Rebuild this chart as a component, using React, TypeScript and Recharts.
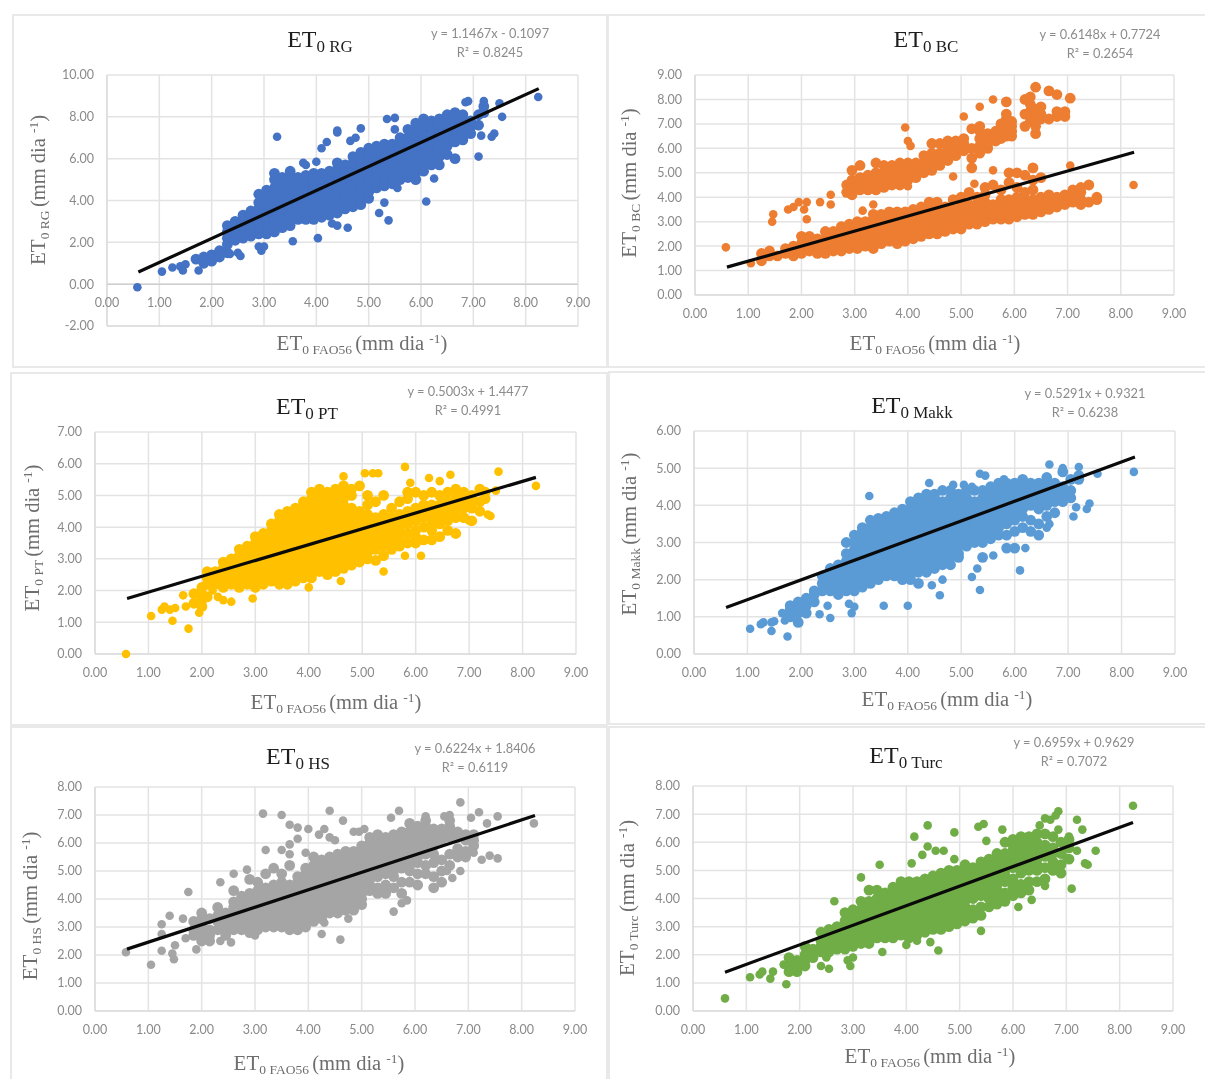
import React from 'react';
import { CartesianGrid, ReferenceLine, Scatter, ScatterChart, XAxis, YAxis } from 'recharts';

// cloud rows are [x, y, y, y...]
const rgCloud: number[][] = [
  [1.7, 1.2], [1.85, 1.0, 1.3], [2.0, 1.1, 1.4], [2.15, 1.3, 1.6], [2.3, 1.5, 1.9, 2.2, 2.5, 2.8],
  [2.45, 2.1, 2.4, 2.7, 3.0], [2.6, 2.2, 2.5, 2.8, 3.1, 3.3], [2.75, 2.3, 2.6, 2.9, 3.2, 3.5],
  [2.9, 2.4, 2.7, 3, 3.3, 3.6, 3.9, 4.3], [3.05, 2.4, 2.6, 2.9, 3.2, 3.5, 3.8, 4.1, 4.5],
  [3.2, 2.5, 2.8, 3.1, 3.4, 3.7, 4, 4.3, 4.6, 5, 5.3], [3.35, 2.7, 3, 3.3, 3.6, 3.9, 4.2, 4.5, 4.8, 5.1],
  [3.5, 2.8, 3.1, 3.4, 3.7, 4, 4.3, 4.6, 4.9, 5.2, 5.4], [3.65, 3.1, 3.3, 3.6, 3.9, 4.2, 4.5, 4.8, 5.1],
  [3.8, 3.1, 3.4, 3.7, 4, 4.3, 4.6, 4.9, 5.2], [3.95, 3.1, 3.3, 3.6, 3.9, 4.2, 4.5, 4.8, 5.1, 5.3],
  [4.1, 3.2, 3.5, 3.8, 4.1, 4.4, 4.7, 5, 5.3], [4.25, 3.3, 3.6, 3.9, 4.2, 4.5, 4.8, 5.1, 5.4],
  [4.4, 3.4, 3.7, 4, 4.3, 4.6, 4.9, 5.2, 5.5, 5.8], [4.55, 3.6, 3.9, 4.2, 4.5, 4.8, 5.1, 5.4, 5.7],
  [4.7, 3.7, 4, 4.3, 4.6, 4.9, 5.2, 5.5, 5.8, 6.1], [4.85, 3.8, 4.2, 4.5, 4.8, 5.1, 5.4, 5.7, 6, 6.3],
  [5.0, 4.1, 4.4, 4.7, 5, 5.3, 5.6, 5.9, 6.2, 6.5], [5.15, 4.6, 4.9, 5.2, 5.5, 5.8, 6.1, 6.4, 6.6],
  [5.3, 4.7, 5, 5.3, 5.6, 5.9, 6.2, 6.5, 6.7], [5.45, 4.8, 5.2, 5.5, 5.8, 6.1, 6.4, 6.7],
  [5.6, 5.0, 5.3, 5.6, 5.9, 6.2, 6.5, 6.8, 7], [5.75, 5.1, 5.5, 5.8, 6.1, 6.4, 6.7, 7, 7.4],
  [5.9, 5.0, 5.3, 5.6, 5.9, 6.2, 6.5, 6.8, 7.1, 7.4, 7.7], [6.05, 5.4, 5.8, 6.1, 6.4, 6.7, 7, 7.3, 7.6, 7.9],
  [6.2, 5.7, 6, 6.3, 6.6, 6.9, 7.2, 7.5, 7.8], [6.35, 5.7, 6.1, 6.5, 6.8, 7.1, 7.4, 7.7, 7.9],
  [6.5, 6.2, 6.6, 6.9, 7.2, 7.5, 7.8, 8.1], [6.65, 6.0, 6.8, 7.1, 7.4, 7.7, 8, 8.2],
  [6.8, 6.9, 7.2, 7.5, 7.8, 8.1], [6.95, 7.2, 7.5, 7.8], [7.1, 7.6, 8.1], [7.2, 8.2, 8.5]
];
const rgOutX = [0.58, 1.05, 1.25, 1.4, 1.45, 1.5, 1.75, 2.35, 2.5, 2.55, 2.95, 2.9, 3.0, 3.25, 3.55, 4.03, 3.75, 3.8, 4.0, 4.1, 4.2, 4.4, 4.4, 4.65, 4.75, 4.85, 5.35, 5.5, 5.5, 5.2, 5.3, 5.38, 6.1, 6.25, 5.55, 6.65, 7.1, 7.15, 7.35, 7.4, 7.55, 6.85, 6.9, 7.2, 7.5, 8.24, 4.3, 4.4, 4.6];
const rgOutY = [-0.15, 0.6, 0.8, 0.85, 0.65, 0.95, 0.65, 1.45, 1.5, 1.35, 1.6, 1.8, 1.8, 7.05, 2.05, 2.2, 5.8, 5.7, 5.85, 6.5, 6.8, 7.35, 7.25, 6.85, 7.0, 7.45, 7.9, 7.95, 7.4, 3.4, 3.9, 3.05, 3.95, 5.05, 4.6, 6.0, 6.1, 7.1, 7.05, 7.2, 8.0, 8.7, 8.75, 8.75, 8.65, 8.95, 2.9, 2.8, 2.7];

const bcCloud: number[][] = [
  [1.25, 1.4, 1.7], [1.4, 1.6, 1.8], [1.55, 1.6], [1.7, 1.7, 1.9], [1.85, 1.6, 1.8, 2.0], [2.0, 1.7, 1.9, 2.1, 2.4], [2.15, 1.8, 2.0, 2.2, 2.4],
  [2.3, 1.7, 1.9, 2.1, 2.3], [2.45, 1.7, 1.9, 2.1, 2.3, 2.6], [2.6, 1.8, 2.0, 2.2, 2.4, 2.6], [2.75, 1.8, 2.0, 2.2, 2.4, 2.6, 2.8],
  [2.9, 1.9, 2.1, 2.3, 2.5, 2.7, 2.9], [3.05, 1.9, 2.1, 2.3, 2.5, 2.7, 2.9, 3.0], [3.2, 2.0, 2.2, 2.4, 2.6, 2.8, 3.0], [3.35, 1.9, 2.1, 2.3, 2.5, 2.7, 2.9, 3.1, 3.3],
  [3.5, 2.1, 2.3, 2.5, 2.7, 2.9, 3.1, 3.3], [3.65, 2.2, 2.4, 2.6, 2.8, 3.0, 3.2, 3.4], [3.8, 2.1, 2.3, 2.5, 2.7, 2.9, 3.1, 3.4], [3.95, 2.2, 2.4, 2.6, 2.8, 3.0, 3.2, 3.4],
  [4.1, 2.3, 2.5, 2.7, 2.9, 3.1, 3.3, 3.5], [4.25, 2.4, 2.6, 2.8, 3.0, 3.2, 3.4, 3.6], [4.4, 2.5, 2.7, 2.9, 3.1, 3.3, 3.5, 3.8], [4.55, 2.5, 2.7, 2.9, 3.1, 3.3, 3.5, 3.8],
  [4.7, 2.6, 2.8, 3.0, 3.2, 3.4, 3.6], [4.85, 2.7, 2.9, 3.1, 3.3, 3.5, 3.9], [5.0, 2.7, 2.9, 3.1, 3.3, 3.5, 3.7, 4.0], [5.15, 2.9, 3.1, 3.3, 3.5, 3.7, 4.2],
  [5.3, 2.9, 3.1, 3.3, 3.5, 3.7, 4.0], [5.45, 3.0, 3.2, 3.4, 3.6, 3.8, 4.1, 4.4], [5.6, 3.1, 3.3, 3.5, 3.7, 4.5], [5.75, 3.1, 3.3, 3.5, 3.7, 3.9, 4.3],
  [5.9, 3.1, 3.3, 3.5, 3.7, 3.9, 4.6, 5.0], [6.05, 3.2, 3.4, 3.6, 3.8, 4.0, 4.4, 5.0], [6.2, 3.3, 3.5, 3.7, 3.9, 4.2, 4.9], [6.35, 3.3, 3.5, 3.7, 3.9, 4.3, 4.7, 5.2],
  [6.5, 3.4, 3.6, 3.8, 4.0, 4.8], [6.65, 3.5, 3.7, 3.9, 4.1], [6.8, 3.6, 3.8, 4.0], [6.95, 3.7, 3.9, 4.1], [7.1, 3.8, 4.0, 4.3], [7.25, 3.7, 3.9, 4.2, 4.4], [7.4, 3.8, 4.5], [7.55, 3.9, 4.0],
  [2.85, 4.2, 4.5], [2.95, 4.1, 4.4, 4.7, 5.1], [3.1, 4.3, 4.6, 4.8, 5.3], [3.25, 4.3, 4.5, 4.7, 4.9], [3.4, 4.3, 4.5, 4.8, 5.0, 5.4], [3.55, 4.4, 4.6, 4.8, 5.0, 5.3],
  [3.7, 4.5, 4.7, 4.9, 5.1, 5.3], [3.85, 4.5, 4.7, 4.9, 5.2, 5.4], [4.0, 4.7, 4.9, 5.1, 5.4], [4.15, 4.8, 5.0, 5.2, 5.4], [4.3, 5.0, 5.2, 5.4, 5.7], [4.45, 5.1, 5.3, 5.5, 5.8, 6.2],
  [4.6, 5.3, 5.6, 5.8, 6.2], [4.75, 5.5, 5.8, 6.0, 6.3], [4.9, 5.7, 6.0, 6.3], [5.05, 5.9, 6.2, 6.4], [5.2, 5.2, 5.6, 6.0, 6.8], [5.35, 5.8, 6.1, 6.4, 6.7, 6.9],
  [5.5, 6.0, 6.2, 6.4, 6.6], [5.65, 6.3, 6.5, 6.7], [5.75, 6.4, 6.6, 6.8, 7.0], [5.85, 6.5, 6.7, 6.9, 7.2, 7.4, 7.9], [5.95, 6.5, 6.7, 6.9, 7.1], [6.2, 6.9, 7.4, 8.0], [6.3, 7.1, 7.5, 7.8, 8.1],
  [6.4, 6.6, 6.9, 7.3, 7.6, 8.5], [6.5, 7.2, 7.4, 7.7], [6.65, 7.2, 8.35], [6.8, 7.3, 7.5, 8.2], [6.95, 7.3, 7.5], [7.05, 8.05]
];
const bcOutX = [0.58, 1.05, 1.45, 1.47, 1.75, 1.85, 1.95, 2.05, 2.1, 2.1, 2.35, 2.55, 2.55, 3.15, 3.35, 3.95, 4.0, 4.05, 4.0, 4.85, 5.05, 5.25, 5.35, 5.6, 5.6, 7.05, 8.24];
const bcOutY = [1.95, 1.3, 3.0, 3.3, 3.5, 3.6, 3.8, 3.5, 3.8, 3.1, 3.8, 3.7, 4.1, 3.45, 3.7, 6.85, 6.3, 6.1, 4.45, 4.85, 7.3, 4.55, 7.7, 5.1, 8.0, 5.3, 4.5];

const ptCloud: number[][] = [
  [1.85, 1.6, 1.9], [2.0, 1.5, 1.7, 1.9, 2.1], [2.1, 1.8, 2.2, 2.4, 2.6], [2.25, 2.2, 2.4, 2.6], [2.4, 2.1, 2.3, 2.5, 2.7, 2.9], [2.55, 2.2, 2.4, 2.6, 2.8, 3.0],
  [2.7, 2.1, 2.3, 2.5, 2.7, 2.9, 3.1, 3.3], [2.85, 2.2, 2.4, 2.6, 2.8, 3.0, 3.2, 3.4], [3.0, 2.1, 2.3, 2.5, 2.7, 2.9, 3.1, 3.3, 3.5, 3.7],
  [3.15, 2.2, 2.4, 2.6, 2.8, 3.0, 3.2, 3.4, 3.6, 3.8], [3.3, 2.3, 2.5, 2.7, 2.9, 3.1, 3.3, 3.5, 3.7, 3.9, 4.1], [3.45, 2.2, 2.4, 2.6, 2.8, 3.0, 3.2, 3.4, 3.6, 3.8, 4.0, 4.2, 4.4],
  [3.6, 2.2, 2.3, 2.5, 2.7, 2.9, 3.1, 3.3, 3.5, 3.7, 3.9, 4.1, 4.3, 4.5], [3.75, 2.3, 2.5, 2.7, 2.9, 3.1, 3.3, 3.5, 3.7, 3.9, 4.1, 4.3, 4.5, 4.6],
  [3.9, 2.4, 2.6, 2.8, 3.0, 3.2, 3.4, 3.6, 3.8, 4.0, 4.2, 4.4, 4.6, 4.8], [4.05, 2.4, 2.5, 2.7, 2.9, 3.1, 3.3, 3.5, 3.7, 3.9, 4.1, 4.3, 4.5, 4.7, 4.9, 5.1],
  [4.2, 2.6, 2.8, 3.0, 3.2, 3.4, 3.6, 3.8, 4.0, 4.2, 4.4, 4.6, 4.8, 5.0, 5.2], [4.35, 2.5, 2.7, 2.9, 3.1, 3.3, 3.5, 3.7, 3.9, 4.1, 4.3, 4.5, 4.7, 4.9, 5.1],
  [4.5, 2.6, 2.8, 3.0, 3.2, 3.4, 3.6, 3.8, 4.0, 4.2, 4.4, 4.6, 4.8, 5.0, 5.2], [4.65, 2.7, 2.9, 3.1, 3.3, 3.5, 3.7, 3.9, 4.1, 4.3, 4.5, 4.7, 4.9, 5.1, 5.3],
  [4.8, 2.8, 3.0, 3.2, 3.4, 3.6, 3.8, 4.0, 4.2, 4.4, 4.6, 5.0, 5.2], [4.95, 2.9, 3.1, 3.3, 3.5, 3.7, 3.9, 4.1, 4.3, 4.5, 5.3], [5.1, 3.0, 3.2, 3.4, 3.6, 3.8, 4.0, 4.2, 4.4, 4.7, 5.0],
  [5.25, 2.95, 3.3, 3.5, 3.7, 3.9, 4.1, 4.3, 4.8], [5.4, 3.1, 3.4, 3.6, 3.8, 4.0, 4.2, 4.4, 5.0], [5.55, 3.3, 3.5, 3.7, 3.9, 4.1, 4.3, 4.6], [5.7, 3.4, 3.6, 3.8, 4.0, 4.2, 4.4, 4.8],
  [5.85, 3.5, 3.8, 4.1, 4.3, 4.5, 4.9, 5.1], [6.0, 3.5, 3.7, 3.9, 4.2, 4.4, 4.6, 5.1], [6.15, 3.6, 4.0, 4.3, 4.5, 4.7, 5.0], [6.3, 3.6, 3.9, 4.1, 4.3, 4.5, 4.7, 5.1], [6.45, 3.7, 4.1, 4.3, 4.5, 4.7, 5.0],
  [6.6, 3.9, 4.2, 4.4, 4.6, 4.8, 5.1], [6.75, 3.8, 4.3, 4.5, 4.7, 4.9, 5.2], [6.9, 4.3, 4.6, 4.8, 5.0, 5.1], [7.05, 4.2, 4.6, 4.8, 5.0], [7.2, 4.5, 4.8, 5.2], [7.3, 4.9, 5.1]
];
const ptOutX = [0.58, 1.05, 1.25, 1.3, 1.4, 1.45, 1.5, 1.75, 1.65, 1.7, 1.95, 2.2, 2.3, 2.4, 2.55, 2.95, 4.0, 4.6, 5.4, 5.8, 6.1, 4.65, 5.05, 5.2, 5.3, 5.8, 6.25, 6.45, 6.65, 7.55, 8.25, 7.4, 7.35, 7.0, 7.5, 5.9];
const ptOutY = [0, 1.2, 1.4, 1.5, 1.4, 1.05, 1.45, 0.8, 1.85, 1.5, 1.3, 2.0, 1.8, 1.7, 1.65, 1.75, 2.1, 2.3, 2.6, 3.1, 3.1, 5.6, 5.7, 5.7, 5.7, 5.9, 5.55, 5.45, 5.65, 5.75, 5.3, 4.35, 4.4, 4.2, 5.15, 5.4];

const makkCloud: number[][] = [
  [1.8, 1.0, 1.2, 1.3], [1.95, 0.85, 1.1, 1.3, 1.4], [2.1, 1.1, 1.3, 1.5], [2.25, 1.4, 1.6, 1.7], [2.4, 1.7, 1.9, 2.1], [2.55, 1.7, 1.9, 2.1, 2.3],
  [2.7, 1.6, 1.8, 2.0, 2.2, 2.4], [2.85, 1.7, 1.9, 2.1, 2.3, 2.5, 2.7, 3.0], [3.0, 1.7, 1.8, 2.0, 2.2, 2.4, 2.6, 2.8, 3.0, 3.2],
  [3.15, 1.8, 1.9, 2.1, 2.3, 2.5, 2.7, 2.9, 3.1, 3.3, 3.4], [3.3, 1.9, 2.0, 2.2, 2.4, 2.6, 2.8, 3.0, 3.2, 3.4, 3.6], [3.45, 2.0, 2.1, 2.3, 2.5, 2.7, 2.9, 3.1, 3.3, 3.5, 3.65],
  [3.6, 2.1, 2.2, 2.4, 2.6, 2.8, 3.0, 3.2, 3.4, 3.6, 3.7], [3.75, 2.1, 2.3, 2.5, 2.7, 2.9, 3.1, 3.3, 3.5, 3.7, 3.8], [3.9, 2.0, 2.2, 2.4, 2.6, 2.8, 3.0, 3.2, 3.4, 3.6, 3.8, 3.9],
  [4.05, 2.0, 2.1, 2.3, 2.5, 2.7, 2.9, 3.1, 3.3, 3.5, 3.7, 3.9, 4.1], [4.2, 1.9, 2.2, 2.4, 2.6, 2.8, 3.0, 3.2, 3.4, 3.6, 3.8, 4.0, 4.2], [4.35, 2.2, 2.3, 2.5, 2.7, 2.9, 3.1, 3.3, 3.5, 3.7, 3.9, 4.1, 4.3],
  [4.5, 2.3, 2.4, 2.6, 2.8, 3.0, 3.2, 3.4, 3.6, 3.8, 4.0, 4.2, 4.3], [4.65, 2.4, 2.5, 2.7, 2.9, 3.1, 3.3, 3.5, 3.7, 3.9, 4.1, 4.4], [4.8, 2.4, 2.6, 2.8, 3.0, 3.2, 3.4, 3.6, 3.8, 4.0, 4.2, 4.4],
  [4.95, 2.6, 2.7, 2.9, 3.1, 3.3, 3.5, 3.7, 3.9, 4.1, 4.3], [5.1, 2.9, 3.0, 3.2, 3.4, 3.6, 3.8, 4.0, 4.2, 4.4], [5.25, 3.0, 3.1, 3.3, 3.5, 3.7, 3.9, 4.1, 4.4], [5.4, 2.6, 3.0, 3.2, 3.4, 3.6, 3.8, 4.0, 4.2, 4.4],
  [5.55, 3.1, 3.3, 3.5, 3.7, 3.9, 4.1, 4.3, 4.5], [5.7, 3.2, 3.4, 3.6, 3.8, 4.0, 4.2, 4.4, 4.6], [5.85, 2.85, 3.2, 3.5, 3.7, 3.9, 4.1, 4.3, 4.5, 4.6], [6.0, 2.85, 3.3, 3.6, 3.8, 4.0, 4.2, 4.4, 4.6],
  [6.15, 3.4, 3.7, 3.9, 4.1, 4.3, 4.5, 4.7], [6.3, 3.3, 3.6, 4.0, 4.2, 4.4, 4.6], [6.45, 3.2, 3.5, 3.9, 4.1, 4.3, 4.5, 4.6], [6.6, 3.7, 4.0, 4.2, 4.4, 4.6, 4.75], [6.75, 3.8, 4.1, 4.3, 4.5, 4.6],
  [6.9, 4.1, 4.3, 4.5, 4.9], [7.05, 4.2, 4.4, 4.7], [7.2, 4.7, 4.8]
];
const makkOutX = [1.05, 1.25, 1.3, 1.45, 1.5, 1.45, 1.75, 1.7, 1.65, 2.35, 2.5, 2.55, 2.9, 2.95, 3.0, 3.55, 4.0, 4.6, 5.35, 5.2, 5.3, 4.65, 4.45, 6.1, 6.2, 5.6, 3.28, 4.4, 6.65, 6.9, 7.2, 8.23, 7.55, 7.4, 7.35, 7.1, 7.15, 6.6, 6.65, 5.35, 5.45, 5.8, 4.85, 5.05, 5.2];
const makkOutY = [0.68, 0.8, 0.85, 0.62, 0.88, 0.85, 0.47, 0.9, 1.1, 1.07, 1.3, 0.97, 1.35, 1.1, 1.27, 1.3, 1.3, 1.58, 1.72, 2.07, 2.3, 2.0, 1.85, 2.25, 2.85, 2.65, 4.25, 4.6, 5.1, 5.0, 5.03, 4.9, 4.85, 4.05, 3.9, 3.7, 3.95, 3.4, 3.5, 4.85, 4.8, 4.7, 4.55, 4.55, 4.5];

const hsCloud: number[][] = [
  [1.85, 2.7, 2.9, 3.2], [2.0, 2.5, 2.7, 2.9, 3.1, 3.3, 3.5], [2.15, 2.5, 2.7, 2.9, 3.3], [2.3, 2.9, 3.2, 3.4, 3.7], [2.45, 2.7, 2.9, 3.1, 3.3, 3.5], [2.6, 2.9, 3.1, 3.3, 3.5, 3.7, 3.9, 4.3],
  [2.75, 2.9, 3.1, 3.3, 3.5, 3.7, 3.9, 4.1], [2.9, 2.8, 3.0, 3.2, 3.4, 3.6, 3.8, 4.0, 4.2, 4.7], [3.05, 2.9, 3.1, 3.3, 3.5, 3.7, 3.9, 4.1, 4.3, 4.6], [3.2, 3.0, 3.2, 3.4, 3.6, 3.8, 4.0, 4.2, 4.4, 4.9],
  [3.35, 3.0, 3.1, 3.3, 3.5, 3.7, 3.9, 4.1, 4.3, 4.5, 5.1], [3.5, 3.0, 3.2, 3.4, 3.6, 3.8, 4.0, 4.2, 4.4, 4.6, 4.9], [3.65, 2.9, 3.1, 3.3, 3.5, 3.7, 3.9, 4.1, 4.3, 4.5, 5.2],
  [3.8, 2.9, 3.2, 3.4, 3.6, 3.8, 4.0, 4.2, 4.4, 4.6, 4.8], [3.95, 3.0, 3.3, 3.5, 3.7, 3.9, 4.1, 4.3, 4.5, 4.7, 4.9, 5.1], [4.1, 3.2, 3.4, 3.6, 3.8, 4.0, 4.2, 4.4, 4.6, 4.8, 5.0, 5.2, 5.5],
  [4.25, 3.3, 3.5, 3.7, 3.9, 4.1, 4.3, 4.5, 4.7, 4.9, 5.1, 5.4], [4.4, 3.5, 3.6, 3.8, 4.0, 4.2, 4.4, 4.6, 4.8, 5.0, 5.2, 5.5], [4.55, 3.5, 3.7, 3.9, 4.1, 4.3, 4.5, 4.7, 4.9, 5.1, 5.3, 5.6],
  [4.7, 3.6, 3.8, 4.0, 4.2, 4.4, 4.6, 4.8, 5.0, 5.2, 5.4, 5.7], [4.85, 3.6, 3.9, 4.1, 4.3, 4.5, 4.7, 4.9, 5.1, 5.3, 5.5, 5.7], [5.0, 3.8, 4.0, 4.2, 4.4, 4.6, 4.8, 5.0, 5.2, 5.4, 5.6, 5.9],
  [5.15, 4.3, 4.5, 4.7, 4.9, 5.1, 5.3, 5.5, 5.7, 6.0, 6.2], [5.3, 4.2, 4.4, 4.8, 5.0, 5.2, 5.4, 5.6, 5.8, 6.0, 6.3], [5.45, 4.2, 4.5, 4.9, 5.1, 5.3, 5.5, 5.7, 5.9, 6.2], [5.6, 4.4, 4.8, 5.0, 5.2, 5.4, 5.6, 5.8, 6.0, 6.3],
  [5.75, 4.2, 4.6, 5.1, 5.3, 5.5, 5.7, 5.9, 6.1, 6.4], [5.9, 4.6, 5.0, 5.2, 5.4, 5.6, 5.8, 6.0, 6.2, 6.4, 6.7], [6.05, 4.5, 4.9, 5.3, 5.5, 5.7, 5.9, 6.1, 6.3, 6.6], [6.2, 4.9, 5.2, 5.6, 5.8, 6.0, 6.2, 6.4, 6.6, 6.8],
  [6.35, 4.4, 4.8, 5.3, 5.6, 5.9, 6.1, 6.3, 6.5], [6.5, 4.6, 5.0, 5.4, 6.1, 6.3, 6.5], [6.65, 5.2, 5.6, 6.2, 6.4, 6.6, 6.8], [6.8, 5.5, 5.8, 6.2, 6.4], [6.95, 5.5, 5.7, 6.1, 6.3], [7.1, 5.9, 6.1, 6.3]
];
const hsOutX = [0.58, 1.05, 1.25, 1.45, 1.48, 1.5, 1.25, 1.25, 1.4, 1.65, 1.7, 1.75, 1.9, 2.35, 2.6, 2.85, 3.15, 3.2, 3.5, 3.5, 3.65, 3.8, 3.65, 3.8, 3.65, 3.95, 4.0, 4.2, 4.3, 4.4, 4.4, 4.5, 4.65, 4.85, 4.95, 5.05, 5.55, 5.7, 6.2, 6.55, 6.65, 6.85, 7.05, 7.2, 7.35, 7.55, 8.23, 7.55, 7.4, 7.25, 7.1, 6.85, 6.7, 6.6, 4.6, 4.25, 4.3, 3.0, 2.55, 2.35, 5.6, 5.75, 5.85, 4.75];
const hsOutY = [2.1, 1.65, 2.15, 2.05, 1.85, 2.35, 2.75, 3.1, 3.4, 3.3, 2.6, 4.25, 2.2, 4.6, 4.9, 5.05, 7.05, 5.75, 7.0, 5.75, 6.65, 6.55, 5.95, 6.15, 5.6, 5.65, 6.5, 6.3, 6.5, 7.15, 6.2, 6.1, 6.8, 6.4, 6.4, 6.5, 6.9, 7.15, 6.95, 6.95, 7.0, 7.45, 6.9, 7.1, 6.7, 6.95, 6.7, 5.45, 5.55, 5.4, 5.65, 5.0, 4.75, 5.0, 2.55, 2.75, 3.15, 2.7, 2.45, 2.5, 3.55, 3.85, 3.95, 3.3];

const turcCloud: number[][] = [
  [1.8, 1.4, 1.6, 1.9], [1.95, 1.4, 1.6, 1.8], [2.1, 1.6, 1.8, 2.0, 2.3], [2.25, 1.9, 2.2], [2.4, 2.1, 2.3, 2.5, 2.8], [2.55, 2.1, 2.3, 2.5, 2.7, 2.9],
  [2.7, 2.2, 2.4, 2.6, 2.8, 3.0], [2.85, 2.2, 2.4, 2.6, 2.8, 3.0, 3.2, 3.5], [3.0, 2.3, 2.5, 2.7, 2.9, 3.1, 3.3, 3.6], [3.15, 2.4, 2.6, 2.8, 3.0, 3.2, 3.4, 3.6, 3.9],
  [3.3, 2.4, 2.5, 2.7, 2.9, 3.1, 3.3, 3.5, 3.7, 3.9, 4.3], [3.45, 2.6, 2.8, 3.0, 3.2, 3.4, 3.6, 3.8, 4.0, 4.3], [3.6, 2.6, 2.7, 2.9, 3.1, 3.3, 3.5, 3.7, 3.9, 4.2],
  [3.75, 2.6, 2.8, 3.0, 3.2, 3.4, 3.6, 3.8, 4.0, 4.2, 4.4], [3.9, 2.7, 2.9, 3.1, 3.3, 3.5, 3.7, 3.9, 4.1, 4.3, 4.6], [4.05, 2.6, 2.8, 3.0, 3.2, 3.4, 3.6, 3.8, 4.0, 4.2, 4.4, 4.6],
  [4.2, 2.7, 2.9, 3.1, 3.3, 3.5, 3.7, 3.9, 4.1, 4.3, 4.6], [4.35, 2.8, 3.0, 3.2, 3.4, 3.6, 3.8, 4.0, 4.2, 4.4, 4.7], [4.5, 2.9, 3.1, 3.3, 3.5, 3.7, 3.9, 4.1, 4.3, 4.5, 4.8],
  [4.65, 2.9, 3.2, 3.4, 3.6, 3.8, 4.0, 4.2, 4.4, 4.6, 4.9], [4.8, 3.0, 3.3, 3.5, 3.7, 3.9, 4.1, 4.3, 4.5, 4.7, 5.0], [4.95, 3.1, 3.4, 3.6, 3.8, 4.0, 4.2, 4.4, 4.6, 4.8, 5.0],
  [5.1, 3.2, 3.5, 3.7, 3.9, 4.1, 4.3, 4.5, 4.7, 4.9, 5.2], [5.25, 3.3, 3.6, 4.0, 4.2, 4.4, 4.6, 4.8, 5.1], [5.4, 3.4, 3.7, 4.1, 4.3, 4.5, 4.7, 4.9, 5.1, 5.3], [5.55, 3.7, 4.0, 4.2, 4.4, 4.6, 4.8, 5.0, 5.2, 5.4],
  [5.7, 3.8, 4.1, 4.3, 4.5, 4.7, 4.9, 5.1, 5.3, 5.6], [5.85, 3.9, 4.2, 4.6, 4.8, 5.0, 5.2, 5.4, 5.6, 6.0], [6.0, 4.1, 4.4, 4.7, 5.1, 5.3, 5.5, 5.7, 5.9, 6.1], [6.15, 4.2, 4.5, 4.9, 5.2, 5.4, 5.6, 5.8, 6.0, 6.2],
  [6.3, 4.3, 4.6, 5.0, 5.3, 5.5, 5.7, 5.9, 6.2], [6.45, 4.6, 5.0, 5.2, 5.4, 5.6, 5.8, 6.0, 6.3], [6.6, 4.7, 5.1, 5.5, 5.7, 5.9, 6.3], [6.75, 5.0, 5.3, 5.6, 5.8, 6.2], [6.9, 4.9, 5.2, 5.6, 6.0], [7.05, 5.4, 5.8, 6.1]
];
const turcOutX = [0.6, 1.07, 1.25, 1.3, 1.45, 1.5, 1.75, 1.7, 2.65, 3.5, 3.15, 3.55, 4.0, 4.6, 4.45, 4.2, 5.4, 2.5, 2.4, 2.55, 2.95, 3.0, 2.9, 6.1, 6.35, 7.1, 6.6, 7.35, 7.4, 7.55, 7.0, 8.25, 6.85, 6.8, 7.2, 7.3, 6.6, 6.7, 6.85, 6.5, 5.35, 5.45, 5.8, 4.4, 4.9, 4.15, 4.4, 4.1, 4.3, 4.55, 4.7, 4.9, 5.5, 7.2, 7.05];
const turcOutY = [0.45, 1.2, 1.3, 1.4, 1.15, 1.4, 0.95, 1.65, 3.9, 5.2, 4.75, 2.1, 2.35, 2.15, 2.45, 2.5, 2.85, 1.9, 1.6, 1.5, 1.6, 1.9, 1.8, 3.7, 3.95, 4.35, 4.45, 5.25, 5.2, 5.7, 5.45, 7.3, 7.1, 6.95, 6.8, 6.45, 6.85, 6.8, 6.45, 6.6, 6.55, 6.65, 6.45, 6.6, 6.35, 6.2, 5.85, 5.25, 5.55, 5.7, 5.7, 5.4, 6.05, 5.7, 6.2];

const xTicks = [0, 1, 2, 3, 4, 5, 6, 7, 8, 9];

type Pt = { x: number; y: number };
const fromCloud = (rows: number[][]): Pt[] => rows.flatMap(([x, ...ys]) => ys.map((y) => ({ x, y })));
const fromPairs = (xs: number[], ys: number[]): Pt[] => xs.map((x, i) => ({ x, y: ys[i] }));

const panels = [
  {
    name: 'RG', color: '#4472C4', cloud: rgCloud, outX: rgOutX, outY: rgOutY,
    trend: [{ x: 0.6, y: 0.58 }, { x: 8.25, y: 9.35 }], eq: 'y = 1.1467x - 0.1097', r2: 'R² = 0.8245',
    yTicks: [-2, 0, 2, 4, 6, 8, 10],
    plot: { left: 107, right: 578, top: 75, bottom: 326 },
    title: [320, 41], eqPos: [490, 34], xLab: [362, 344], yLab: [39, 190]
  },
  {
    name: 'BC', color: '#ED7D31', cloud: bcCloud, outX: bcOutX, outY: bcOutY,
    trend: [{ x: 0.6, y: 1.14 }, { x: 8.25, y: 5.84 }], eq: 'y = 0.6148x + 0.7724', r2: 'R² = 0.2654',
    yTicks: [0, 1, 2, 3, 4, 5, 6, 7, 8, 9],
    plot: { left: 695, right: 1174, top: 75, bottom: 295 },
    title: [926, 41], eqPos: [1100, 35], xLab: [935, 344], yLab: [630, 183]
  },
  {
    name: 'PT', color: '#FFC000', cloud: ptCloud, outX: ptOutX, outY: ptOutY,
    trend: [{ x: 0.6, y: 1.75 }, { x: 8.25, y: 5.57 }], eq: 'y = 0.5003x + 1.4477', r2: 'R² = 0.4991',
    yTicks: [0, 1, 2, 3, 4, 5, 6, 7],
    plot: { left: 95, right: 576, top: 432, bottom: 654 },
    title: [307, 408], eqPos: [468, 392], xLab: [336, 703], yLab: [33, 538]
  },
  {
    name: 'Makk', color: '#5B9BD5', cloud: makkCloud, outX: makkOutX, outY: makkOutY,
    trend: [{ x: 0.6, y: 1.25 }, { x: 8.25, y: 5.3 }], eq: 'y = 0.5291x + 0.9321', r2: 'R² = 0.6238',
    yTicks: [0, 1, 2, 3, 4, 5, 6],
    plot: { left: 694, right: 1175, top: 431, bottom: 654 },
    title: [912, 407], eqPos: [1085, 394], xLab: [947, 700], yLab: [630, 534]
  },
  {
    name: 'HS', color: '#A5A5A5', cloud: hsCloud, outX: hsOutX, outY: hsOutY,
    trend: [{ x: 0.6, y: 2.21 }, { x: 8.25, y: 6.98 }], eq: 'y = 0.6224x + 1.8406', r2: 'R² = 0.6119',
    yTicks: [0, 1, 2, 3, 4, 5, 6, 7, 8],
    plot: { left: 95, right: 575, top: 787, bottom: 1011 },
    title: [298, 758], eqPos: [475, 749], xLab: [319, 1064], yLab: [31, 906]
  },
  {
    name: 'Turc', color: '#70AD47', cloud: turcCloud, outX: turcOutX, outY: turcOutY,
    trend: [{ x: 0.6, y: 1.38 }, { x: 8.25, y: 6.7 }], eq: 'y = 0.6959x + 0.9629', r2: 'R² = 0.7072',
    yTicks: [0, 1, 2, 3, 4, 5, 6, 7, 8],
    plot: { left: 693, right: 1173, top: 786, bottom: 1011 },
    title: [906, 757], eqPos: [1074, 743], xLab: [930, 1057], yLab: [628, 898]
  }
];

const frames = [
  { left: 12, top: 14, width: 596, height: 354 },
  { left: 607, top: 14, width: 610, height: 354 },
  { left: 10, top: 372, width: 598, height: 354 },
  { left: 608, top: 371, width: 610, height: 354 },
  { left: 10, top: 726, width: 598, height: 370 },
  { left: 608, top: 726, width: 610, height: 370 }
];

const serif = '"Liberation Serif", serif';
const lato = 'Lato, sans-serif';

const MmLabel = ({ sub }: { sub: string }) => (
  <>
    <span style={{ fontSize: 21 }}>ET</span>
    <span style={{ fontSize: 13.5, verticalAlign: '-0.3em' }}>{`0 ${sub} `}</span>
    <span style={{ fontSize: 20.5 }}>(mm dia </span>
    <span style={{ fontSize: 13.5, verticalAlign: '0.5em' }}>-1</span>
    <span style={{ fontSize: 20.5 }}>)</span>
  </>
);

// the cloud rows are spaced wider than a marker, so their dots are drawn a bit bigger to close up
const dot = (r: number, fill: string) => (props: any) => <circle cx={props.cx} cy={props.cy} r={r} fill={fill} />;

const centered: React.CSSProperties = {
  position: 'absolute',
  whiteSpace: 'nowrap',
  lineHeight: 1,
  fontFamily: serif
};

const Panel = ({ p }: { p: (typeof panels)[number] }) => {
  const { plot } = p;
  const marginLeft = 60;
  const marginRight = 22;
  const marginTop = 10;
  const axisH = 34;
  const yMin = p.yTicks[0];
  const crossesZero = yMin < 0;
  const plotH = plot.bottom - plot.top;
  const zeroShift = crossesZero ? (plotH * (0 - yMin)) / (p.yTicks[p.yTicks.length - 1] - yMin) : 0;

  return (
    <>
      <div style={{ position: 'absolute', left: plot.left - marginLeft, top: plot.top - marginTop }}>
        <ScatterChart
          width={plot.right - plot.left + marginLeft + marginRight}
          height={plotH + marginTop + axisH}
          margin={{ top: marginTop, right: marginRight, bottom: 0, left: 0 }}
        >
          <CartesianGrid stroke="#e3e3e3" strokeWidth={1.5} />
          <XAxis
            type="number"
            dataKey="x"
            domain={[0, 9]}
            ticks={xTicks}
            interval={0}
            height={axisH}
            tickLine={false}
            tickSize={0}
            tickMargin={14}
            tickFormatter={(v: number) => v.toFixed(2)}
            tick={{ fontSize: 12.5, fontFamily: lato, fill: '#8a8a8a', dy: -zeroShift }}
            axisLine={{ stroke: '#d6d6d6' }}
          />
          <YAxis
            type="number"
            dataKey="y"
            domain={[yMin, p.yTicks[p.yTicks.length - 1]]}
            ticks={p.yTicks}
            interval={0}
            width={marginLeft}
            tickLine={false}
            tickSize={0}
            tickMargin={13}
            tickFormatter={(v: number) => v.toFixed(2)}
            tick={{ fontSize: 12.5, fontFamily: lato, fill: '#8a8a8a' }}
            axisLine={{ stroke: '#d6d6d6' }}
          />
          {crossesZero && <ReferenceLine y={0} stroke="#cfcfcf" strokeWidth={1.5} />}
          <Scatter data={fromCloud(p.cloud)} fill={p.color} shape={dot(5.4, p.color)} isAnimationActive={false} />
          <Scatter data={fromPairs(p.outX, p.outY)} fill={p.color} shape={dot(4.3, p.color)} isAnimationActive={false} />
          <Scatter
            data={p.trend}
            line={{ stroke: '#0a0a0a', strokeWidth: 3.2 }}
            shape={() => <g />}
            isAnimationActive={false}
          />
        </ScatterChart>
      </div>
      <div style={{ ...centered, left: p.title[0], top: p.title[1], transform: 'translate(-50%,-50%)', color: '#1e1e1e' }}>
        <span style={{ fontSize: 24 }}>ET</span>
        <span style={{ fontSize: 17, verticalAlign: '-0.3em' }}>{`0 ${p.name}`}</span>
      </div>
      <div style={{ ...centered, fontFamily: lato, fontSize: 12.8, color: '#8c8c8c', textAlign: 'center', lineHeight: '19px', left: p.eqPos[0], top: p.eqPos[1] - 10, transform: 'translateX(-50%)' }}>
        {p.eq}
        <br />
        {p.r2}
      </div>
      <div style={{ ...centered, left: p.xLab[0], top: p.xLab[1], transform: 'translate(-50%,-50%)', color: '#6e6e6e' }}>
        <MmLabel sub="FAO56" />
      </div>
      <div style={{ ...centered, left: p.yLab[0], top: p.yLab[1], transform: 'translate(-50%,-50%) rotate(-90deg)', color: '#6e6e6e' }}>
        <MmLabel sub={p.name} />
      </div>
    </>
  );
};

export default function App() {
  return (
    <div style={{ position: 'absolute', left: 0, top: 0, width: 1205, height: 1079, overflow: 'hidden', background: '#fff', filter: 'blur(0.6px)' }}>
      {frames.map((f, i) => (
        <div key={i} style={{ position: 'absolute', ...f, border: '2px solid #e9e9e9', boxSizing: 'border-box' }} />
      ))}
      {panels.map((p) => (
        <Panel key={p.name} p={p} />
      ))}
    </div>
  );
}
